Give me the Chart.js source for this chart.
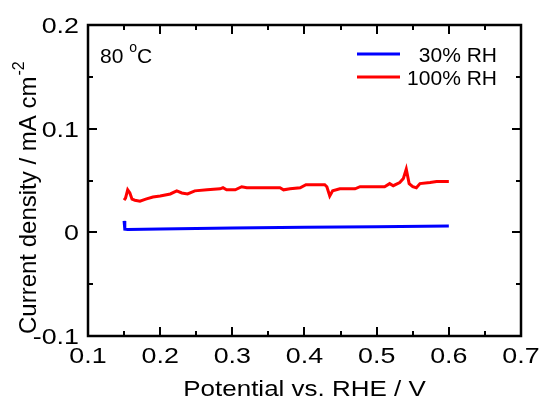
<!DOCTYPE html>
<html>
<head>
<meta charset="utf-8">
<script src="https://cdn.jsdelivr.net/npm/chart.js@4.4.1/dist/chart.umd.min.js"></script>
<style>
  html, body { margin: 0; padding: 0; background: #fff; }
  #wrap { width: 539px; height: 398px; }
</style>
</head>
<body>
<div id="wrap"><canvas id="chart" width="539" height="398"></canvas></div>
<script>
// data
const potential30 = [0.150, 0.151, 0.155, 0.200, 0.300, 0.400, 0.500, 0.600];
const current30   = [0.011, 0.003, 0.0028, 0.0033, 0.0042, 0.0050, 0.0055, 0.0060];

const potential100 = [0.150, 0.152, 0.155, 0.158, 0.161, 0.165, 0.172, 0.180, 0.190, 0.200,
                      0.214, 0.223, 0.230, 0.238, 0.248, 0.265, 0.283, 0.287, 0.292, 0.304,
                      0.313, 0.320, 0.340, 0.366, 0.371, 0.380, 0.394, 0.402, 0.415, 0.428,
                      0.431, 0.435, 0.439, 0.449, 0.470, 0.477, 0.500, 0.511, 0.518, 0.523,
                      0.532, 0.537, 0.541, 0.545, 0.550, 0.555, 0.560, 0.574, 0.583, 0.600];
const current100   = [0.031, 0.033, 0.041, 0.038, 0.032, 0.031, 0.030, 0.032, 0.034, 0.035,
                      0.037, 0.040, 0.038, 0.037, 0.040, 0.041, 0.042, 0.043, 0.041, 0.041,
                      0.044, 0.043, 0.043, 0.043, 0.041, 0.042, 0.043, 0.046, 0.046, 0.046,
                      0.044, 0.035, 0.040, 0.042, 0.042, 0.044, 0.044, 0.044, 0.047, 0.045,
                      0.048, 0.052, 0.061, 0.047, 0.044, 0.043, 0.047, 0.048, 0.049, 0.049];

const seriesNames = ['30% RH', '100% RH'];
const seriesColors = ['#0000ff', '#ff0000'];

const xTicks = [0.1, 0.2, 0.3, 0.4, 0.5, 0.6, 0.7];
const xTickLabels = ['0.1', '0.2', '0.3', '0.4', '0.5', '0.6', '0.7'];
const yTicks = [-0.1, 0, 0.1, 0.2];
const yTickLabels = ['-0.1', '0', '0.1', '0.2'];

const FONT = '"Liberation Sans", Arial, sans-serif';

function toPoints(xs, ys) {
    return xs.map((x, i) => ({ x: x, y: ys[i] }));
}

// text slightly stretched sideways, like the original figure
function wideText(ctx, text, x, y, align, sx) {
    const w = ctx.measureText(text).width * sx;
    let left = x;
    if (align === 'center') left = x - w / 2;
    if (align === 'right') left = x - w;
    ctx.save();
    ctx.translate(left, y);
    ctx.scale(sx, 1);
    ctx.textAlign = 'left';
    ctx.fillText(text, 0, 0);
    ctx.restore();
}

// frame, inward ticks, tick labels, titles, legend and the temperature note
const decorations = {
    id: 'decorations',
    afterDraw(chart) {
        const ctx = chart.ctx;
        const a = chart.chartArea;
        const xs = chart.scales.x, ys = chart.scales.y;
        ctx.save();
        ctx.strokeStyle = '#000';
        ctx.lineWidth = 2.5;
        ctx.strokeRect(a.left, a.top, a.right - a.left, a.bottom - a.top);

        ctx.lineWidth = 2;
        ctx.beginPath();
        for (let v = 0.1; v <= 0.7001; v += 0.05) {
            const px = Math.round(xs.getPixelForValue(v));
            const major = Math.abs(v * 10 - Math.round(v * 10)) < 0.01;
            const len = major ? 9 : 5;
            ctx.moveTo(px, a.bottom); ctx.lineTo(px, a.bottom - len);
            ctx.moveTo(px, a.top); ctx.lineTo(px, a.top + len);
        }
        for (let v = -0.1; v <= 0.2001; v += 0.05) {
            const py = Math.round(ys.getPixelForValue(v));
            const major = Math.abs(v * 10 - Math.round(v * 10)) < 0.01;
            const len = major ? 9 : 5;
            ctx.moveTo(a.left, py); ctx.lineTo(a.left + len, py);
            ctx.moveTo(a.right, py); ctx.lineTo(a.right - len, py);
        }
        ctx.stroke();

        ctx.fillStyle = '#000';
        ctx.textBaseline = 'alphabetic';

        // tick labels
        ctx.font = '22px ' + FONT;
        xTicks.forEach((v, i) => {
            wideText(ctx, xTickLabels[i], xs.getPixelForValue(v), a.bottom + 27, 'center', 1.22);
        });
        yTicks.forEach((v, i) => {
            wideText(ctx, yTickLabels[i], a.left - 9, ys.getPixelForValue(v) + 8, 'right', 1.22);
        });

        // x title
        ctx.font = '22px ' + FONT;
        wideText(ctx, 'Potential vs. RHE / V', (a.left + a.right) / 2, 396, 'center', 1.18);

        // y title with superscript
        ctx.save();
        ctx.translate(36, 334);
        ctx.rotate(-Math.PI / 2);
        ctx.textAlign = 'left';
        ctx.font = '24px ' + FONT;
        const main = 'Current density / mA cm';
        ctx.fillText(main, 0, 0);
        const w = ctx.measureText(main).width;
        ctx.font = '16px ' + FONT;
        ctx.fillText('-2', w + 1, -12);
        ctx.restore();

        // temperature note
        ctx.textAlign = 'left';
        ctx.font = '21px ' + FONT;
        ctx.fillText('80', 100, 63);
        const w80 = ctx.measureText('80 ').width;
        ctx.font = '14px ' + FONT;
        ctx.fillText('o', 100 + w80, 52);
        const wo = ctx.measureText('o').width;
        ctx.font = '21px ' + FONT;
        ctx.fillText('C', 100 + w80 + wo, 63);

        // legend
        const rows = [54, 77];
        seriesNames.forEach((name, i) => {
            ctx.strokeStyle = seriesColors[i];
            ctx.lineWidth = 3;
            ctx.beginPath();
            ctx.moveTo(357, rows[i]);
            ctx.lineTo(400, rows[i]);
            ctx.stroke();
            ctx.font = '21px ' + FONT;
            ctx.textAlign = 'right';
            ctx.fillText(name, 497, rows[i] + 8);
        });
        ctx.restore();
    }
};

new Chart(document.getElementById('chart'), {
    type: 'line',
    data: {
        datasets: [
            {
                label: seriesNames[0],
                data: toPoints(potential30, current30),
                borderColor: seriesColors[0],
                borderWidth: 3,
                pointRadius: 0,
                tension: 0
            },
            {
                label: seriesNames[1],
                data: toPoints(potential100, current100),
                borderColor: seriesColors[1],
                borderWidth: 3,
                pointRadius: 0,
                tension: 0
            }
        ]
    },
    options: {
        responsive: false,
        animation: false,
        layout: { padding: { top: 25, right: 18, left: 0, bottom: 0 } },
        plugins: {
            legend: { display: false },
            tooltip: { enabled: false }
        },
        scales: {
            x: {
                type: 'linear',
                min: 0.1,
                max: 0.7,
                grid: { display: false, drawTicks: false },
                border: { display: false },
                afterBuildTicks: scale => { scale.ticks = xTicks.map(v => ({ value: v })); },
                afterFit: scale => { scale.height = 62; },
                ticks: { display: false }
            },
            y: {
                type: 'linear',
                min: -0.1,
                max: 0.2,
                grid: { display: false, drawTicks: false },
                border: { display: false },
                afterBuildTicks: scale => { scale.ticks = yTicks.map(v => ({ value: v })); },
                afterFit: scale => { scale.width = 88; },
                ticks: { display: false }
            }
        }
    },
    plugins: [decorations]
});
</script>
</body>
</html>
